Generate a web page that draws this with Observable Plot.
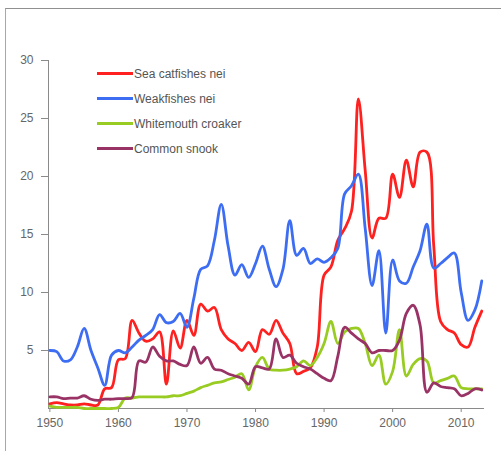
<!DOCTYPE html>
<html>
<head>
<meta charset="utf-8">
<script src="https://cdn.jsdelivr.net/npm/d3@7"></script>
<script src="https://cdn.jsdelivr.net/npm/@observablehq/plot@0.6"></script>
<style>
  html, body { margin: 0; padding: 0; background: #fff; }
  #wrap { position: relative; width: 501px; height: 451px; overflow: hidden; }
  #frame { position: absolute; left: 5px; top: 8px; width: 600px; height: 600px;
           border-left: 1px solid #a8a8a8; border-top: 1px solid #909090; }
  #legend { position: absolute; left: 97px; top: 61px; font-family: "Liberation Sans", Arial, sans-serif;
            font-size: 12px; color: #555; }
  .item { display: flex; align-items: center; height: 25px; }
  .swatch { width: 36px; height: 3px; margin-right: 1px; }
</style>
</head>
<body>
<div id="wrap">
  <div id="frame"></div>
  <div id="chart"></div>
  <div id="legend"></div>
</div>
<script>
const years = d3.range(1950, 2014);

const seriesNames = ["Sea catfishes nei", "Weakfishes nei", "Whitemouth croaker", "Common snook"];
const seriesColors = ["#ff2020", "#3d6df2", "#99cc22", "#993366"];

const seaCatfishes = [
  0.4, 0.5, 0.4, 0.3, 0.3, 0.4, 0.3, 0.3, 1.7, 1.8,
  4.2, 4.3, 7.6, 6.5, 5.8, 6.0, 6.6, 2.1, 6.7, 5.2,
  7.6, 6.3, 9.0, 8.4, 8.7, 6.8, 6.0, 5.6, 5.0, 5.7,
  4.9, 6.8, 6.4, 7.6, 6.5, 5.6, 3.0, 3.2, 3.5, 5.3,
  11.5, 12.2, 14.5, 15.5, 17.0, 26.7, 20.5, 14.7, 16.4, 16.4,
  20.2, 18.2, 21.4, 19.1, 22.1, 22.1, 14.0, 7.5, 6.8, 6.5,
  5.5, 5.3, 7.0, 8.4
];

const weakfishes = [
  5.0, 4.9, 4.1, 4.2, 5.3, 6.9, 5.0, 3.5, 2.0, 4.6,
  5.0, 4.8, 5.3, 5.9, 6.3, 6.8, 8.1, 7.4, 7.5, 8.2,
  7.0, 9.5, 12.0, 12.3, 14.5, 17.6, 14.0, 11.5, 12.4, 11.3,
  12.5, 14.0, 12.0, 10.5, 12.0, 16.2, 13.2, 13.8, 12.5, 12.9,
  12.6, 13.0, 13.8, 18.5, 19.2, 20.2, 15.5, 10.6, 13.6, 6.5,
  12.8, 11.0, 10.8, 12.2, 13.6, 15.9, 12.1, 12.5, 13.0, 13.4,
  10.0, 7.6, 8.5, 11.0
];

const whitemouthCroaker = [
  0.2, 0.1, 0.1, 0.1, 0.1, 0.0, 0.0, 0.0, 0.0, 0.0,
  0.1, 0.9, 0.9, 1.0, 1.0, 1.0, 1.0, 1.0, 1.1, 1.1,
  1.3, 1.5, 1.8, 2.0, 2.2, 2.3, 2.5, 2.7, 3.0, 1.6,
  3.6, 4.4, 3.4, 3.3, 3.3, 3.4, 3.6, 4.1, 3.7, 4.4,
  5.6, 7.5, 5.6, 6.6, 6.9, 6.9, 5.6, 3.7, 4.6, 2.1,
  3.2, 6.8, 2.8, 3.8, 4.3, 4.1, 2.2, 2.4, 2.6, 2.8,
  1.8, 1.7, 1.7, 1.7
];

const commonSnook = [
  1.0, 1.0, 0.85, 0.9, 0.9, 1.1, 0.8, 0.7, 0.8, 0.8,
  0.85, 0.85, 0.95, 4.1, 4.0, 5.3, 4.5, 4.1, 4.1, 3.8,
  3.7, 5.3, 3.9, 4.4, 3.4, 3.3, 3.0, 2.8, 2.6, 2.1,
  3.6, 3.5, 3.4, 6.0, 4.4, 4.6, 3.9, 3.6, 3.4, 3.0,
  2.6, 2.4, 4.5, 7.0, 6.5, 6.0, 5.6, 4.8, 5.0, 5.0,
  5.0, 5.9, 8.2, 8.9, 7.2, 1.4, 2.2, 1.9, 1.8, 1.7,
  1.1, 1.3, 1.7, 1.6
];

const xTicks = [1950, 1960, 1970, 1980, 1990, 2000, 2010];
const yTicks = [5, 10, 15, 20, 25, 30];

const allValues = [seaCatfishes, weakfishes, whitemouthCroaker, commonSnook];
const rows = allValues.flatMap((vals, k) =>
  years.map((yr, i) => ({ year: yr, value: vals[i], name: seriesNames[k] })));

const chart = Plot.plot({
  width: 501,
  height: 451,
  marginLeft: 48,
  marginRight: 17,
  marginTop: 60,
  marginBottom: 43,
  style: { fontFamily: "'Liberation Sans', Arial, sans-serif", fontSize: "12px", color: "#666", background: "transparent" },
  x: { domain: [1949.8, 2013.4] },
  y: { domain: [0, 30] },
  color: { domain: seriesNames, range: seriesColors },
  marks: [
    Plot.ruleY([0], { stroke: "#8a8a8a" }),
    Plot.ruleX([1949.8], { y1: 0, y2: 30, stroke: "#8a8a8a" }),
    Plot.axisX({ ticks: xTicks, tickFormat: d => String(d), tickSize: 4, tickPadding: 6, label: null, stroke: "#8a8a8a" }),
    Plot.axisY({ ticks: yTicks, tickSize: 7, tickPadding: 8, label: null, stroke: "#8a8a8a" }),
    Plot.line(rows, { x: "year", y: "value", z: "name", stroke: "name", curve: "catmull-rom", strokeWidth: 2.8 })
  ]
});
document.getElementById("chart").appendChild(chart);

const legend = d3.select("#legend");
seriesNames.forEach((n, i) => {
  const it = legend.append("div").attr("class", "item");
  it.append("div").attr("class", "swatch").style("background", seriesColors[i]);
  it.append("span").text(n);
});
</script>
</body>
</html>
